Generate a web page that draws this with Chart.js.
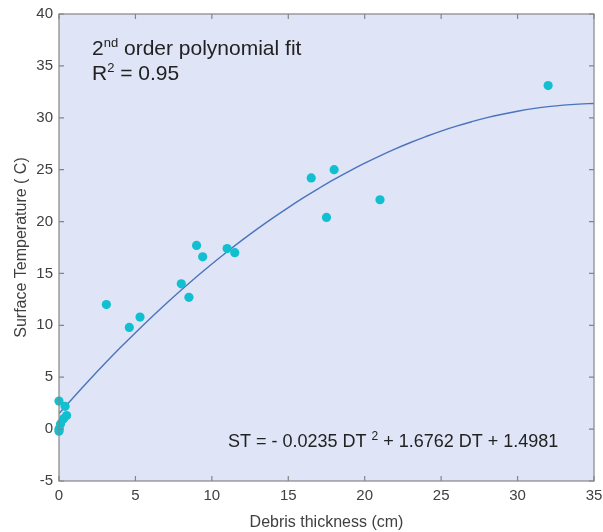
<!DOCTYPE html>
<html>
<head>
<meta charset="utf-8">
<script src="https://cdn.jsdelivr.net/npm/chart.js@4.4.1/dist/chart.umd.min.js"></script>
<style>
  html, body { margin: 0; padding: 0; background: #ffffff; }
  #wrap { width: 603px; height: 532px; }
</style>
</head>
<body>
<div id="wrap"><canvas id="c" width="603" height="532"></canvas></div>
<script>
const debrisThickness = [0, 0.4, 0.5, 0.3, 0.1, 0, 0, 3.1, 4.6, 5.3, 8.0, 8.5, 9.0, 9.4, 11.0, 11.5, 16.5, 17.5, 18.0, 21.0, 32.0];
const surfaceTemp     = [2.7, 2.2, 1.3, 1.0, 0.5, 0.0, -0.2, 12.0, 9.8, 10.8, 14.0, 12.7, 17.7, 16.6, 17.4, 17.0, 24.2, 20.4, 25.0, 22.1, 33.1];

// Fitted curve
const fitX = [0,1,2,3,4,5,6,7,8,9,10,11,12,13,14,15,16,17,18,19,20,21,22,23,24,25,26,27,28,29,30,31,32,33,34,35];
const fitY = [1.50,3.15,4.76,6.32,7.83,9.29,10.71,12.08,13.40,14.68,15.91,17.09,18.23,19.32,20.36,21.35,22.30,23.20,24.06,24.86,25.62,26.33,27.00,27.62,28.19,28.72,29.19,29.62,30.01,30.34,30.63,30.88,31.07,31.22,31.32,31.38];

// Tick labels
const xTicks = [0, 5, 10, 15, 20, 25, 30, 35];
const yTicks = [-5, 0, 5, 10, 15, 20, 25, 30, 35, 40];

const xTitle = 'Debris thickness (cm)';
const yTitle = 'Surface Temperature ( C)';

const FONT = "'Liberation Sans', Arial, sans-serif";

const boxPlugin = {
  id: 'boxPlugin',
  beforeDraw(chart) {
    const {ctx, chartArea: a} = chart;
    ctx.save();
    ctx.fillStyle = '#dfe4f7';
    ctx.fillRect(a.left, a.top, a.right - a.left, a.bottom - a.top);
    ctx.restore();
  },
  afterDraw(chart) {
    const {ctx, chartArea: a, scales} = chart;
    ctx.save();
    ctx.strokeStyle = '#858585';
    ctx.lineWidth = 1.2;
    ctx.strokeRect(a.left, a.top, a.right - a.left, a.bottom - a.top);
    const tl = 5;
    ctx.beginPath();
    xTicks.forEach(v => {
      const px = scales.x.getPixelForValue(v);
      ctx.moveTo(px, a.bottom); ctx.lineTo(px, a.bottom - tl);
      ctx.moveTo(px, a.top); ctx.lineTo(px, a.top + tl);
    });
    yTicks.forEach(v => {
      const py = scales.y.getPixelForValue(v);
      ctx.moveTo(a.left, py); ctx.lineTo(a.left + tl, py);
      ctx.moveTo(a.right, py); ctx.lineTo(a.right - tl, py);
    });
    ctx.stroke();

    // annotations
    ctx.fillStyle = '#222222';
    ctx.textBaseline = 'alphabetic';
    ctx.textAlign = 'left';
    function runs(x, y, parts) {
      parts.forEach(p => {
        ctx.font = p.size + 'px ' + FONT;
        ctx.fillText(p.t, x, y - (p.rise || 0));
        x += ctx.measureText(p.t).width;
      });
    }
    runs(92, 55, [{t: '2', size: 21}, {t: 'nd', size: 13, rise: 8}, {t: ' order polynomial fit', size: 21}]);
    runs(92, 80, [{t: 'R', size: 21}, {t: '2', size: 13, rise: 8}, {t: ' = 0.95', size: 21}]);
    runs(228, 447, [{t: 'ST = - 0.0235 DT ', size: 18}, {t: '2', size: 12, rise: 7}, {t: ' + 1.6762 DT + 1.4981', size: 18}]);
    ctx.restore();
  }
};

new Chart(document.getElementById('c'), {
  type: 'scatter',
  data: {
    datasets: [
      {
        type: 'line',
        data: fitX.map((x, i) => ({x: x, y: fitY[i]})),
        borderColor: '#4a74bd',
        borderWidth: 1.4,
        pointRadius: 0,
        fill: false,
        tension: 0.4,
        order: 2
      },
      {
        type: 'scatter',
        data: debrisThickness.map((x, i) => ({x: x, y: surfaceTemp[i]})),
        backgroundColor: '#10bfd0',
        borderColor: '#10bfd0',
        borderWidth: 0,
        pointRadius: 4.6,
        clip: false,
        order: 1
      }
    ]
  },
  options: {
    responsive: false,
    animation: false,
    devicePixelRatio: 1,
    layout: { padding: { top: 14, right: 9, left: 0, bottom: 0 } },
    plugins: { legend: { display: false }, tooltip: { enabled: false } },
    scales: {
      x: {
        type: 'linear',
        min: 0, max: 35,
        afterFit(s) { s.height = 51; s.paddingLeft = 0; s.paddingRight = 0; },
        afterBuildTicks(s) { s.ticks = xTicks.map(v => ({value: v})); },
        ticks: { color: '#404040', font: { family: FONT, size: 15 }, padding: 6, maxRotation: 0 },
        grid: { display: false, drawTicks: false },
        border: { display: false },
        title: { display: true, text: xTitle, color: '#404040', font: { family: FONT, size: 16 }, padding: { top: 4, bottom: 0 } }
      },
      y: {
        type: 'linear',
        min: -5, max: 40,
        afterFit(s) { s.width = 59; s.paddingTop = 0; s.paddingBottom = 0; },
        afterBuildTicks(s) { s.ticks = yTicks.map(v => ({value: v})); },
        ticks: { color: '#404040', font: { family: FONT, size: 15 }, padding: 6 },
        grid: { display: false, drawTicks: false },
        border: { display: false },
        title: { display: true, text: yTitle, color: '#404040', font: { family: FONT, size: 16 }, padding: { top: 12, bottom: 0 } }
      }
    }
  },
  plugins: [boxPlugin]
});
</script>
</body>
</html>
